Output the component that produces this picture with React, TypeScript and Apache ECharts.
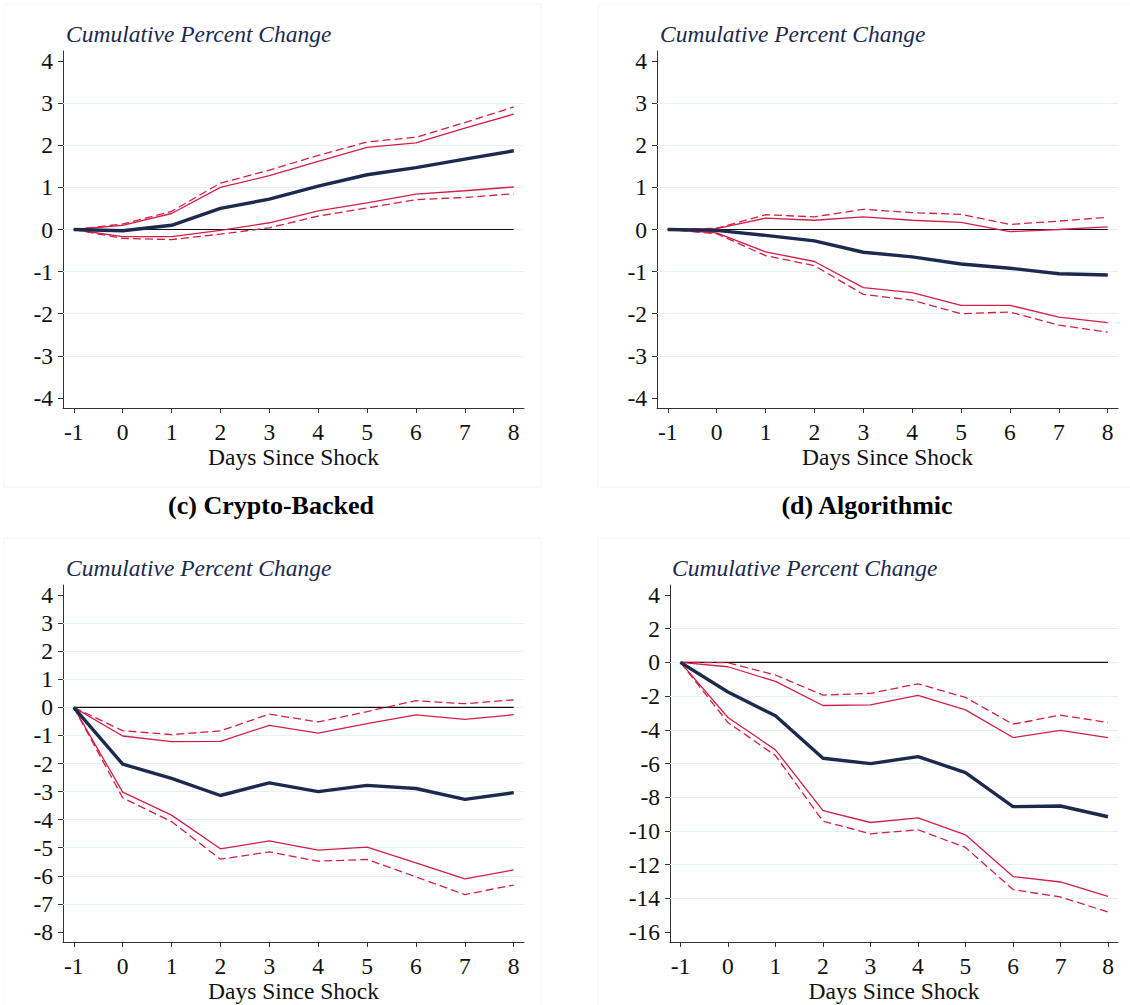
import React, { useEffect, useRef } from "react";
import * as echarts from "echarts";

// ---------------- data ----------------
const days = [-1, 0, 1, 2, 3, 4, 5, 6, 7, 8];

// Panel top-left
const aCenter = [0, -0.03, 0.1, 0.5, 0.72, 1.03, 1.3, 1.47, 1.67, 1.87];
const aUpper90 = [0, 0.1, 0.38, 1.0, 1.28, 1.62, 1.95, 2.06, 2.41, 2.74];
const aUpper95 = [0, 0.13, 0.43, 1.1, 1.41, 1.76, 2.08, 2.19, 2.54, 2.91];
const aLower90 = [0, -0.17, -0.17, -0.02, 0.16, 0.44, 0.63, 0.84, 0.92, 1.01];
const aLower95 = [0, -0.21, -0.24, -0.11, 0.04, 0.32, 0.51, 0.71, 0.76, 0.85];

// Panel top-right
const bCenter = [0, -0.02, -0.14, -0.27, -0.54, -0.65, -0.82, -0.92, -1.05, -1.08];
const bUpper90 = [0, 0.02, 0.27, 0.22, 0.3, 0.22, 0.17, -0.05, 0.0, 0.06];
const bUpper95 = [0, 0.03, 0.35, 0.3, 0.48, 0.4, 0.36, 0.12, 0.2, 0.29];
const bLower90 = [0, -0.08, -0.53, -0.76, -1.38, -1.5, -1.8, -1.8, -2.08, -2.21];
const bLower95 = [0, -0.1, -0.62, -0.86, -1.54, -1.68, -2.0, -1.96, -2.27, -2.44];

// Panel (c) Crypto-Backed
const cCenter = [0, -2.02, -2.53, -3.14, -2.69, -3.0, -2.78, -2.89, -3.28, -3.04];
const cUpper90 = [0, -1.02, -1.22, -1.21, -0.64, -0.92, -0.58, -0.27, -0.43, -0.26];
const cUpper95 = [0, -0.83, -0.97, -0.84, -0.24, -0.52, -0.15, 0.24, 0.13, 0.27];
const cLower90 = [0, -3.02, -3.84, -5.04, -4.76, -5.09, -4.98, -5.54, -6.11, -5.79];
const cLower95 = [0, -3.22, -4.07, -5.41, -5.15, -5.48, -5.42, -6.04, -6.67, -6.33];

// Panel (d) Algorithmic
const dCenter = [0, -1.76, -3.17, -5.69, -6.01, -5.59, -6.54, -8.56, -8.52, -9.16];
const dUpper90 = [0, -0.26, -1.13, -2.56, -2.52, -1.96, -2.82, -4.46, -4.04, -4.46];
const dUpper95 = [0, -0.02, -0.75, -1.94, -1.84, -1.27, -2.08, -3.67, -3.13, -3.57];
const dLower90 = [0, -3.27, -5.19, -8.8, -9.5, -9.22, -10.23, -12.71, -13.03, -13.88];
const dLower95 = [0, -3.57, -5.53, -9.42, -10.17, -9.93, -10.98, -13.48, -13.92, -14.81];

// tick labels
const xTicks = [-1, 0, 1, 2, 3, 4, 5, 6, 7, 8];
const yTicksA = [-4, -3, -2, -1, 0, 1, 2, 3, 4];
const yTicksB = [-4, -3, -2, -1, 0, 1, 2, 3, 4];
const yTicksC = [-8, -7, -6, -5, -4, -3, -2, -1, 0, 1, 2, 3, 4];
const yTicksD = [-16, -14, -12, -10, -8, -6, -4, -2, 0, 2, 4];

const titleText = "Cumulative Percent Change";
const xName = "Days Since Shock";
const labelC = "(c) Crypto-Backed";
const labelD = "(d) Algorithmic";

// ---------------- styles ----------------
const FONT = "'Liberation Serif', 'Times New Roman', Times, serif";
const NAVY = "#1c2a4e";
const RED = "#d21f45";
const AXIS = "#333333";
const GRID = "#e6eff1";
const FS = 23.5;

const panels = [
  { center: aCenter, u90: aUpper90, u95: aUpper95, l90: aLower90, l95: aLower95, yTicks: yTicksA, yMin: -4.24, yMax: 4.24, grid: { left: 63, top: 51, width: 461, height: 357 }, titlePos: { left: 66, top: 22 } },
  { center: bCenter, u90: bUpper90, u95: bUpper95, l90: bLower90, l95: bLower95, yTicks: yTicksB, yMin: -4.24, yMax: 4.24, grid: { left: 657, top: 51, width: 461, height: 357 }, titlePos: { left: 660, top: 22 } },
  { center: cCenter, u90: cUpper90, u95: cUpper95, l90: cLower90, l95: cLower95, yTicks: yTicksC, yMin: -8.36, yMax: 4.36, grid: { left: 63, top: 585, width: 461, height: 357 }, titlePos: { left: 66, top: 556 } },
  { center: dCenter, u90: dUpper90, u95: dUpper95, l90: dLower90, l95: dLower95, yTicks: yTicksD, yMin: -16.59, yMax: 4.59, grid: { left: 670, top: 585, width: 448, height: 357 }, titlePos: { left: 672, top: 556 } },
];

function pairs(vals: number[]) {
  return days.map((d, i) => [d, vals[i]]);
}

function buildOption() {
  const grids: any[] = [];
  const xAxes: any[] = [];
  const yAxes: any[] = [];
  const titles: any[] = [];
  const series: any[] = [];

  panels.forEach((p, i) => {
    grids.push({ ...p.grid, containLabel: false });
    titles.push({
      text: titleText,
      left: p.titlePos.left,
      top: p.titlePos.top,
      padding: 0,
      textStyle: { fontFamily: FONT, fontStyle: "italic", fontWeight: "normal", fontSize: FS, color: NAVY },
    });
    xAxes.push({
      type: "value",
      gridIndex: i,
      min: -1.22,
      max: 8.21,
      axisLine: { show: true, onZero: false, lineStyle: { color: AXIS, width: 1 } },
      axisTick: { show: true, length: 5, customValues: xTicks, lineStyle: { color: AXIS } },
      axisLabel: { customValues: xTicks, margin: 12, fontSize: FS, color: "#111", fontFamily: FONT },
      splitLine: { show: false },
      name: xName,
      nameLocation: "middle",
      nameGap: 33,
      nameTextStyle: { fontSize: FS, color: "#111", fontFamily: FONT },
    });
    yAxes.push({
      type: "value",
      gridIndex: i,
      min: p.yMin,
      max: p.yMax,
      axisLine: { show: true, onZero: false, lineStyle: { color: AXIS, width: 1 } },
      axisTick: { show: true, length: 5, customValues: p.yTicks, lineStyle: { color: AXIS } },
      axisLabel: { customValues: p.yTicks, margin: 10, fontSize: FS, color: "#111", fontFamily: FONT },
      splitLine: { show: false },
    });

    const gridVals = p.yTicks.slice(1, p.yTicks.length - 1);
    // zero reference line + gridlines
    series.push({
      type: "line",
      xAxisIndex: i,
      yAxisIndex: i,
      data: [[-1, 0], [8, 0]],
      symbol: "none",
      silent: true,
      z: 2,
      lineStyle: { color: "#111", width: 1.2 },
      markLine: {
        silent: true,
        symbol: ["none", "none"],
        label: { show: false },
        lineStyle: { color: GRID, type: "solid", width: 1.2 },
        data: gridVals.map((v) => ({ yAxis: v })),
        z: 1,
      },
    });
    const band = (vals: number[], dashed: boolean) => ({
      type: "line",
      xAxisIndex: i,
      yAxisIndex: i,
      data: pairs(vals),
      symbol: "none",
      silent: true,
      z: 3,
      lineStyle: { color: RED, width: 1.3, type: dashed ? [8, 4] : "solid" },
    });
    series.push(band(p.u95, true));
    series.push(band(p.u90, false));
    series.push(band(p.l90, false));
    series.push(band(p.l95, true));
    series.push({
      type: "line",
      xAxisIndex: i,
      yAxisIndex: i,
      data: pairs(p.center),
      symbol: "none",
      silent: true,
      z: 4,
      lineStyle: { color: NAVY, width: 3.4 },
    });
  });

  const frame = (x: number, y: number, w: number, h: number) => ({
    type: "rect",
    shape: { x, y, width: w, height: h },
    style: { fill: "none", stroke: "#f3f3f3", lineWidth: 1 },
    silent: true,
    z: 0,
  });

  return {
    animation: false,
    backgroundColor: "#ffffff",
    title: titles,
    grid: grids,
    xAxis: xAxes,
    yAxis: yAxes,
    series,
    graphic: [
      frame(4, 4, 537, 483),
      frame(598, 4, 540, 483),
      frame(4, 538, 537, 480),
      frame(598, 538, 540, 480),
      {
        type: "text",
        x: 271,
        y: 505,
        silent: true,
        style: { text: labelC, font: `bold 26px ${FONT}`, fill: "#000", textAlign: "center", textVerticalAlign: "middle" },
      },
      {
        type: "text",
        x: 867,
        y: 505,
        silent: true,
        style: { text: labelD, font: `bold 26px ${FONT}`, fill: "#000", textAlign: "center", textVerticalAlign: "middle" },
      },
    ],
  };
}

export default function App() {
  const ref = useRef<HTMLDivElement>(null);
  useEffect(() => {
    document.body.style.margin = "0";
    if (!ref.current) return;
    const chart = echarts.init(ref.current, undefined, { renderer: "svg" });
    chart.setOption(buildOption() as any);
    return () => chart.dispose();
  }, []);
  return <div ref={ref} style={{ width: 1130, height: 1005, background: "#fff" }} />;
}
